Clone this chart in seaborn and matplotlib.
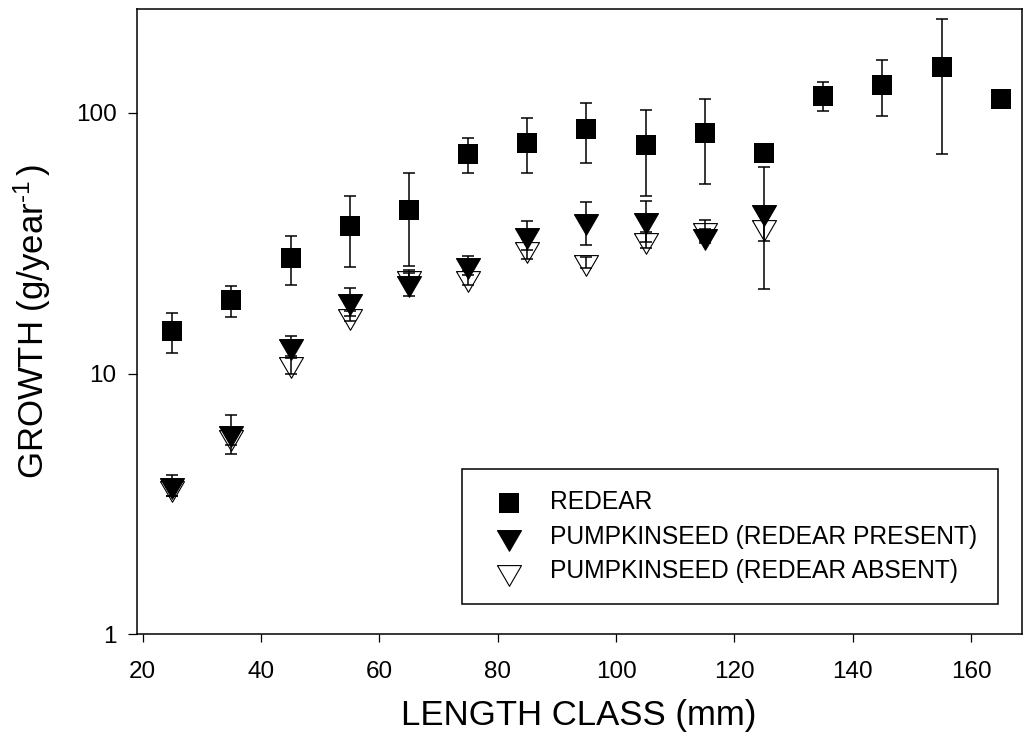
import numpy as np
import pandas as pd
import matplotlib
matplotlib.use("Agg")
import matplotlib.pyplot as plt
import seaborn as sns

# ---------------- data ----------------
length_class = [25, 35, 45, 55, 65, 75, 85, 95, 105, 115, 125, 135, 145, 155, 165]

redear = [14.5, 19.1, 27.8, 36.8, 42.4, 69.4, 76.8, 86.6, 75.1, 83.3, 70.2, 116.3, 128.0, 149.6, 113.2]
redear_se = [2.5, 2.6, 5.9, 11.2, 16.5, 10.8, 18.3, 22.5, 27.2, 30.1, np.nan, 15.1, 31.1, 80.0, np.nan]

pk_x = [25, 35, 45, 55, 65, 75, 85, 95, 105, 115, 125]
pk_present = [3.73, 5.93, 12.7, 18.9, 22.3, 26.0, 34.1, 38.3, 38.8, 33.8, 41.5]
pk_present_se = [0.35, 1.02, 1.2, 2.3, 2.55, 2.2, 4.3, 7.3, 6.9, 2.0, 20.4]
pk_absent = [3.65, 5.7, 10.85, 16.65, 23.2, 23.3, 30.1, 26.7, 32.6, 35.6, 36.6]
pk_absent_se = [0.25, 0.4, 0.85, 0.75, 1.2, 1.5, 2.6, 1.3, 2.2, 3.3, 4.4]

labels = ["REDEAR", "PUMPKINSEED (REDEAR PRESENT)", "PUMPKINSEED (REDEAR ABSENT)"]
x_ticks = [20, 40, 60, 80, 100, 120, 140, 160]
y_ticks = [1, 10, 100]

# ---------------- style ----------------
sns.set_style("white")
plt.rcParams["font.family"] = ["Liberation Sans", "DejaVu Sans"]
plt.rcParams["mathtext.fontset"] = "custom"
plt.rcParams["mathtext.rm"] = "Liberation Sans"
plt.rcParams["mathtext.it"] = "Liberation Sans"
plt.rcParams["mathtext.default"] = "regular"
for k in ("text.color", "axes.labelcolor", "xtick.color", "ytick.color", "axes.edgecolor"):
    plt.rcParams[k] = "black"

DPI = 100
W, H = 1023, 745
fig = plt.figure(figsize=(W / DPI, H / DPI), dpi=DPI)
ax_l, ax_r, ax_t, ax_b = 136.7, 1021.5, 9.0, 634.3
ax = fig.add_axes([ax_l / W, 1 - ax_b / H, (ax_r - ax_l) / W, (ax_b - ax_t) / H])

px = 72.0 / DPI  # points per pixel

# down-pointing triangle with centroid at origin (pixel units)
tw, th = 24.0, 20.7
tri = [(-tw / 2, th / 3), (tw / 2, th / 3), (0, -2 * th / 3), (-tw / 2, th / 3)]
tri_size = (2 * max(abs(v) for p in tri for v in p) * px) ** 2
sq_size = (20.5 * px) ** 2

df_r = pd.DataFrame({"x": length_class, "y": redear, "se": redear_se})
df_p = pd.DataFrame({"x": pk_x, "y": pk_present, "se": pk_present_se})
df_a = pd.DataFrame({"x": pk_x, "y": pk_absent, "se": pk_absent_se})

sns.scatterplot(data=df_r, x="x", y="y", marker="s", s=sq_size, color="black",
                edgecolor="black", linewidth=0, ax=ax, label=labels[0], zorder=3)
sns.scatterplot(data=df_a, x="x", y="y", marker=tri, s=tri_size, color="white",
                edgecolor="black", linewidth=0.8, ax=ax, label=labels[2], zorder=3)
sns.scatterplot(data=df_p, x="x", y="y", marker=tri, s=tri_size, color="black",
                edgecolor="black", linewidth=0.8, ax=ax, label=labels[1], zorder=4)

for d in (df_r, df_a, df_p):
    ax.errorbar(d["x"], d["y"], yerr=d["se"], fmt="none", ecolor="black",
                elinewidth=1.1, capsize=4.4, capthick=1.1, zorder=5)

ax.set_yscale("log")
ax.set_xlim(19.0, 168.5)
ax.set_ylim(1, 250)
ax.set_xticks(x_ticks)
ax.set_xticklabels([str(t) for t in x_ticks])
ax.set_yticks(y_ticks)
ax.set_yticklabels([str(t) for t in y_ticks])
ax.yaxis.set_minor_locator(matplotlib.ticker.LogLocator(base=10, subs=np.arange(2, 10)))
ax.yaxis.set_minor_formatter(matplotlib.ticker.NullFormatter())

for s in ax.spines.values():
    s.set_visible(True)
    s.set_color("black")
    s.set_linewidth(1.1)

ax.tick_params(axis="both", which="major", direction="out", color="black",
               labelsize=17.5, width=0.9, length=6.5, pad=8, labelcolor="black")
ax.tick_params(axis="y", which="minor", direction="out", color="black", width=0.9, length=4.1)
ax.tick_params(axis="x", which="major", length=6, pad=13)
ax.tick_params(left=True, bottom=True)

ax.set_xlabel("LENGTH CLASS (mm)", fontsize=25, color="black")
ax.set_ylabel("GROWTH (g/year$^{\\text{-1}}\\,$)", fontsize=25, color="black")
ax.xaxis.set_label_coords(0.5, (ax_b - 698.6) / (ax_b - ax_t))
ax.yaxis.set_label_coords((53.0 - ax_l) / (ax_r - ax_l), 0.5)

# legend: order as in reference
h, l = ax.get_legend_handles_labels()
order = [l.index(t) for t in labels]
leg = ax.legend([h[i] for i in order], [l[i] for i in order],
                loc="upper left", bbox_to_anchor=(0.368, 0.2639), borderaxespad=0,
                fontsize=17.7, frameon=True, fancybox=False, edgecolor="black",
                framealpha=1, borderpad=0.86, labelspacing=0.42,
                handlelength=2.05, handletextpad=0.66)
leg.get_frame().set_linewidth(1.1)
for t in leg.get_texts():
    t.set_color("black")

fig.savefig("out.png", dpi=DPI, facecolor="white")
